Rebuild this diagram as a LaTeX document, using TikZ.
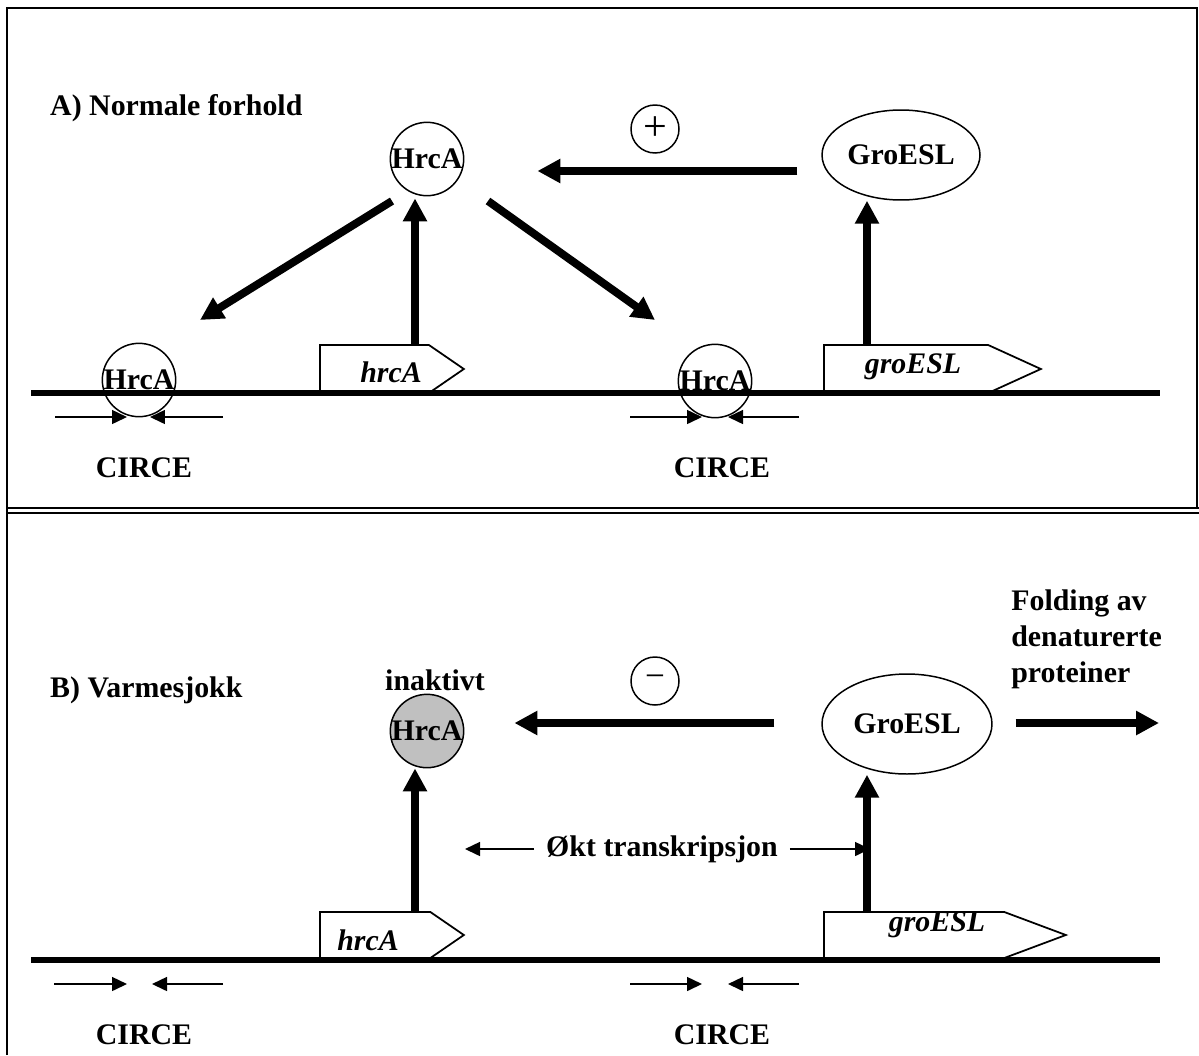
\documentclass[tikz,border=0pt]{standalone}
\usepackage{fontspec}
\setmainfont{Liberation Serif}
\usetikzlibrary{arrows.meta, shapes.geometric, shapes.symbols, positioning}
\definecolor{hrcgray}{HTML}{C0C0C0}
\tikzset{>=Triangle}

\begin{document}
\begin{tikzpicture}[x=0.02cm, y=-0.02cm,
        every node/.style={font=\fontsize{17}{20.5}\selectfont\bfseries},
        frame/.style={line width=1.1pt},
        dna/.style={line width=3.4pt},
        prot/.style={circle, draw, line width=0.85pt, minimum size=1.44cm, inner sep=0pt},
        chap/.style={ellipse, draw, line width=0.85pt, inner sep=0pt},
        sign/.style={circle, draw, line width=0.85pt, minimum size=0.96cm, inner sep=0pt, font=\fontsize{24}{24}\selectfont\mdseries},
        gene/.style={signal, signal to=east, draw, fill=white, line width=1pt, inner sep=0pt, anchor=west},
        genetxt/.style={font=\fontsize{17}{20}\selectfont\bfseries\itshape},
        bigarr/.style={line width=4.5pt, -{Triangle[length=0.46cm, width=0.46cm]}},
        circearr/.style={line width=0.85pt, -{Triangle[length=0.3cm, width=0.28cm]}}]

        \useasboundingbox (0,0) rectangle (1199,1055);

        % frame
        \draw[frame] (7,1055) -- (7,8) -- (1197,8) -- (1197,508);
        \draw[frame] (7,508) -- (1199,508);
        \draw[frame] (7,513) -- (1199,513);

        % A) normal conditions
        \node[anchor=west] (tA) at (44,108) {A) Normale forhold};
        \node[prot] (H1) at (427,159) {HrcA};
        \node[sign] (plus) at (655,129) {+};
        \node[chap, minimum width=3.16cm, minimum height=1.8cm] (G1) at (901,155) {GroESL};

        \node[gene, minimum width=2.88cm, minimum height=0.96cm, signal pointer angle=69] (gA1) at (319,369) {};
        \node[genetxt] (gA1t) at (391,372) {hrcA};
        \node[gene, minimum width=4.34cm, minimum height=0.96cm, signal pointer angle=49] (gG1) at (823,369) {};
        \node[genetxt] (gG1t) at (913,367) {groESL};

        \draw[dna] (31,393) -- (1160,393);

        \node[prot] (H2) at (139,380) {HrcA};
        \node[prot] (H3) at (715,381) {HrcA};

        \coordinate (c1a) at (55,417);
        \coordinate (c1b) at (127,417);
        \coordinate (c1c) at (223,417);
        \coordinate (c1d) at (150,417);
        \coordinate (c2a) at (630,417);
        \coordinate (c2b) at (702,417);
        \coordinate (c2c) at (799,417);
        \coordinate (c2d) at (728,417);
        \draw[circearr] (c1a) -- (c1b);
        \draw[circearr] (c1c) -- (c1d);
        \draw[circearr] (c2a) -- (c2b);
        \draw[circearr] (c2c) -- (c2d);
        \node (ci1) at (144,468) {CIRCE};
        \node (ci2) at (722,468) {CIRCE};

        \draw[bigarr] ([shift={(-24,16)}]G1.west) -- ([shift={(73,12)}]H1.east);
        \draw[bigarr] ([shift={(-35,42)}]H1.center) -- ([shift={(61,-60)}]H2.center);
        \draw[bigarr] ([shift={(61,42)}]H1.center) -- ([shift={(-60,-61)}]H3.center);
        \draw[bigarr] ([shift={(96,-24)}]gA1.west) -- ([shift={(-12,2)}]H1.south);
        \draw[bigarr] ([shift={(44,-24)}]gG1.west) -- ([shift={(-34,0)}]G1.south);

        % B) heat shock
        \node[anchor=west] (tB) at (44,690) {B) Varmesjokk};
        \node (inak) at (435,680) {inaktivt};
        \node[prot, fill=hrcgray] (H4) at (427,731) {HrcA};
        \node[sign, font=\fontsize{20}{20}\selectfont\mdseries] (minus) at (655,681) {−};
        \node[chap, minimum width=3.4cm, minimum height=2cm] (G2) at (907,724) {GroESL};
        \node[anchor=north west, align=left, inner sep=0pt] (fold) at (1011,589) {Folding av\\denaturerte\\proteiner};
        \coordinate (foldEnd) at (1159,723);

        \node (okt) at (662,849) {Økt transkripsjon};
        \coordinate (oktL) at (465,849);
        \coordinate (oktR) at (870,849);

        \node[gene, minimum width=2.88cm, minimum height=0.92cm, signal pointer angle=69] (gA2) at (319,935) {};
        \node[genetxt] (gA2t) at (368,940) {hrcA};
        \node[gene, minimum width=4.84cm, minimum height=0.92cm, signal pointer angle=41] (gG2) at (823,935) {};
        \node[genetxt] (gG2t) at (937,925) {groESL};

        \draw[dna] (31,960) -- (1160,960);

        \coordinate (c3a) at (54,984);
        \coordinate (c3b) at (127,984);
        \coordinate (c3c) at (223,984);
        \coordinate (c3d) at (152,984);
        \coordinate (c4a) at (630,984);
        \coordinate (c4b) at (702,984);
        \coordinate (c4c) at (799,984);
        \coordinate (c4d) at (728,984);
        \draw[circearr] (c3a) -- (c3b);
        \draw[circearr] (c3c) -- (c3d);
        \draw[circearr] (c4a) -- (c4b);
        \draw[circearr] (c4c) -- (c4d);
        \node (ci3) at (144,1035) {CIRCE};
        \node (ci4) at (722,1035) {CIRCE};

        \draw[bigarr] ([shift={(-47,-1)}]G2.west) -- ([shift={(50,-8)}]H4.east);
        \draw[bigarr] ([shift={(96,-23)}]gA2.west) -- ([shift={(-12,0)}]H4.south);
        \draw[bigarr] ([shift={(44,-23)}]gG2.west) -- ([shift={(-40,0)}]G2.south);
        \draw[bigarr] ([shift={(23,-1)}]G2.east) -- (foldEnd);
        \draw[circearr] ([shift={(-6,0)}]okt.west) -- (oktL);
        \draw[circearr] ([shift={(6,0)}]okt.east) -- (oktR);
\end{tikzpicture}
\end{document}
